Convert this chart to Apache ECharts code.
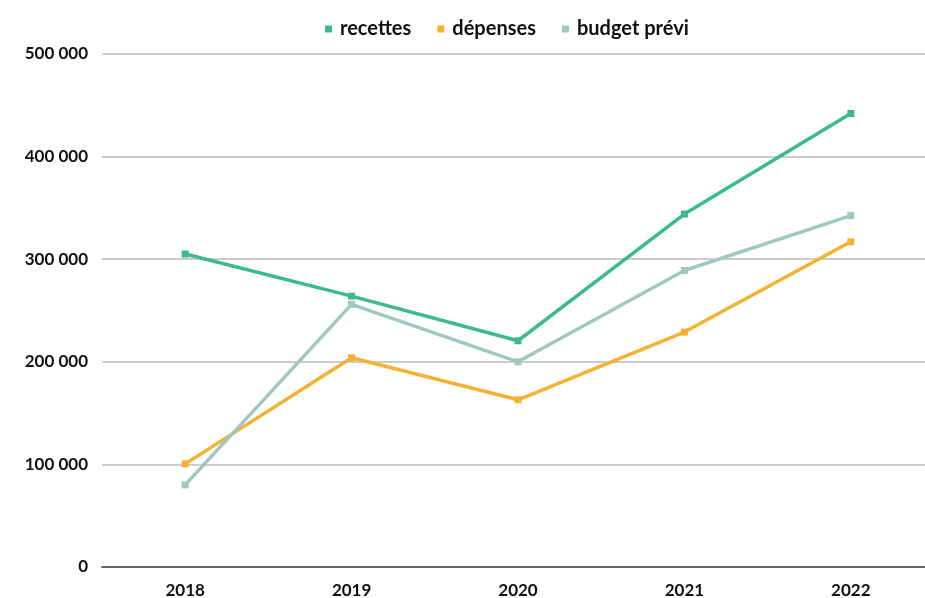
<!DOCTYPE html>
<html>
<head>
<meta charset="utf-8">
<script src="https://cdn.jsdelivr.net/npm/echarts@6/dist/echarts.min.js"></script>
<style>
  html, body { margin: 0; padding: 0; background: #fff; }
  #chart { width: 925px; height: 598px; }
</style>
</head>
<body>
<div id="chart"></div>
<script>
  var years = ['2018', '2019', '2020', '2021', '2022'];
  var recettes = [305000, 264000, 220500, 344000, 442000];
  var depenses = [100500, 204000, 163000, 229000, 317000];
  var budgetPrevi = [80000, 256000, 200000, 289000, 342500];
  var yTicks = [0, 100000, 200000, 300000, 400000, 500000];

  function fmt(v) {
    return String(v).replace(/\B(?=(\d{3})+(?!\d))/g, ' ');
  }

  function line(name, data, color) {
    return {
      name: name,
      type: 'line',
      data: data,
      symbol: 'rect',
      symbolSize: 7,
      lineStyle: { width: 3.5, color: color },
      itemStyle: { color: color },
      emphasis: { disabled: true }
    };
  }

  var chart = echarts.init(document.getElementById('chart'));
  chart.setOption({
    animation: false,
    textStyle: { fontFamily: 'Lato' },
    legend: {
      top: 14,
      left: 320,
      icon: 'rect',
      itemWidth: 7,
      itemHeight: 7,
      itemGap: 26,
      textStyle: { fontSize: 20, fontWeight: 'bold', color: '#111', padding: [0, 0, 0, 3] },
      data: ['recettes', 'dépenses', 'budget prévi']
    },
    grid: { left: 102, top: 54, width: 832, height: 513, outerBoundsMode: 'none' },
    xAxis: {
      type: 'category',
      data: years,
      axisLine: { lineStyle: { color: '#666', width: 2 } },
      axisTick: { show: false },
      axisLabel: { fontSize: 17, fontWeight: 'bold', color: '#111', margin: 15 }
    },
    yAxis: {
      type: 'value',
      min: yTicks[0],
      max: yTicks[yTicks.length - 1],
      interval: 100000,
      axisLine: { show: false },
      axisTick: { show: false },
      splitLine: { lineStyle: { color: '#bbb', width: 1.5 } },
      axisLabel: {
        fontSize: 17, fontWeight: 'bold', color: '#111', margin: 14,
        formatter: function (v) { return fmt(v); }
      }
    },
    series: [
      line('recettes', recettes, '#3dba8c'),
      line('dépenses', depenses, '#f3b234'),
      line('budget prévi', budgetPrevi, '#9fc9c0')
    ]
  });
</script>
</body>
</html>
